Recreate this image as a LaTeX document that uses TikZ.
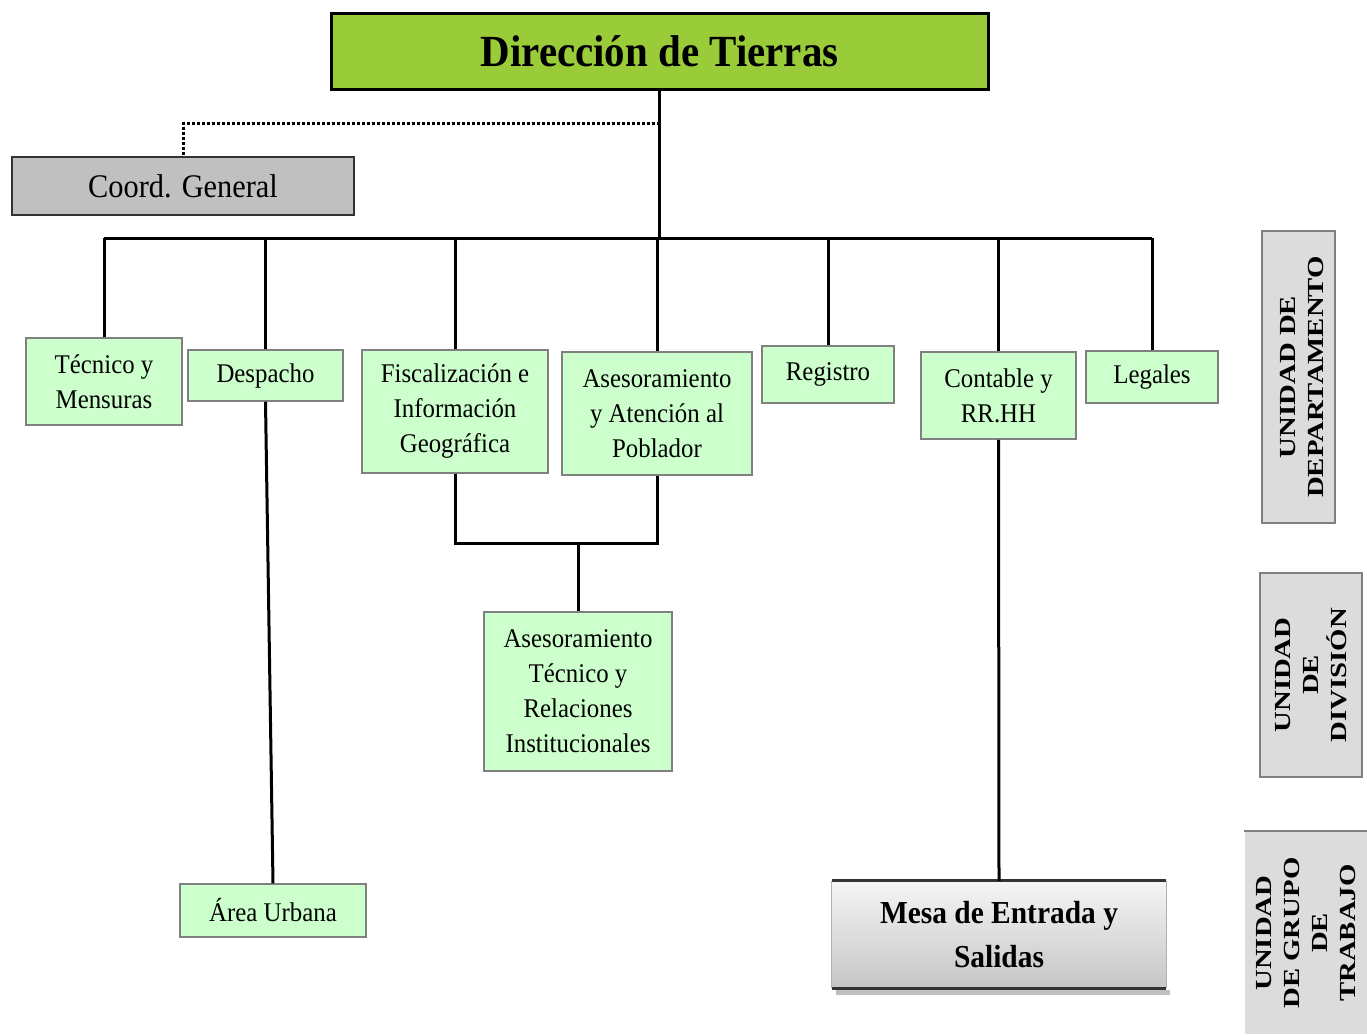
\documentclass[tikz,border=0pt]{standalone}
\usepackage{fontspec}
\setmainfont{Liberation Serif}
\newfontfamily\cond[FakeStretch=0.92]{Liberation Serif}
\newfontfamily\wide[FakeStretch=1.25]{Liberation Serif}
\definecolor{dirgreen}{RGB}{154,204,58}
\definecolor{lgreen}{RGB}{204,255,204}
\definecolor{cgray}{RGB}{192,192,192}
\definecolor{lgray}{RGB}{220,220,220}
\definecolor{bgray}{RGB}{128,128,128}
\begin{document}
\begin{tikzpicture}[x=1pt,y=-1pt,
  conn/.style={line width=3pt},
  dotline/.style={line width=3pt,dotted},
  gbox/.style={draw=bgray,line width=1.5pt,fill=lgreen,align=center,inner sep=0pt,
     font=\cond\fontsize{27}{35}\selectfont},
  sidebox/.style={draw=bgray,line width=1.5pt,fill=lgray,inner sep=0pt},
  sidetext/.style={rotate=90,align=center,font=\wide\bfseries\fontsize{23}{28}\selectfont}]
\useasboundingbox (0,0) rectangle (1367,1034);
% top
\node[draw=black,line width=3pt,fill=dirgreen,minimum width=657pt,minimum height=76pt,inner sep=0pt,
  font=\cond\bfseries\fontsize{44.5}{50}\selectfont] (dir) at (659.5,51) {Dirección de Tierras};
\node[draw=black!80,line width=1.5pt,fill=cgray,minimum width=342pt,minimum height=58pt,inner sep=0pt,
  font=\cond\fontsize{33}{36}\selectfont] (coord) at (183,186) {Coord. General};
% departments
\node[gbox,minimum width=156pt,minimum height=87pt] (tec) at (104,381.5) {Técnico y\\Mensuras};
\node[gbox,minimum width=155pt,minimum height=51pt] (desp) at (265.5,375.5) {Despacho};
\node[gbox,minimum width=186pt,minimum height=123pt] (fis) at (455,411.5) {Fiscalización e\\Información\\Geográfica};
\node[gbox,minimum width=190pt,minimum height=123pt] (ase) at (657,413.5) {Asesoramiento\\y Atención al\\Poblador};
\node[gbox,minimum width=132pt,minimum height=57pt] (reg) at (828,374.5) {Registro};
\node[gbox,minimum width=155pt,minimum height=87pt] (con) at (998.5,395.5) {Contable y\\RR.HH};
\node[gbox,minimum width=132pt,minimum height=52pt] (leg) at (1152,377) {Legales};
% divisions
\node[gbox,minimum width=188pt,minimum height=159pt] (atr) at (578,691.5) {Asesoramiento\\Técnico y\\Relaciones\\Institucionales};
\node[gbox,minimum width=186pt,minimum height=53pt] (area) at (273,910.5) {Área Urbana};
% mesa
\fill[black!25] (836,990) rectangle (1170,995);
\node[top color=gray!8,bottom color=gray!45,minimum width=334pt,minimum height=107pt,inner sep=0pt,align=center,
  font=\cond\bfseries\fontsize{32}{44}\selectfont] (mesa) at (999,934.5) {Mesa de Entrada y\\Salidas};
\draw[line width=3pt,black!80] (mesa.north west) -- (mesa.north east);
\draw[line width=3pt,black!80] (mesa.south west) -- (mesa.south east);
\draw[line width=0.8pt,gray!60] (mesa.north west) -- (mesa.south west) (mesa.north east) -- (mesa.south east);
% side labels
\node[sidebox,minimum width=73pt,minimum height=292pt] (s1) at (1298.5,377) {};
\node[sidetext] (t1) at ([xshift=4pt]s1.center) {UNIDAD DE\\DEPARTAMENTO};
\node[sidebox,minimum width=102pt,minimum height=204pt] (s2) at (1311,675) {};
\node[sidetext] (t2) at (s2.center) {UNIDAD\\DE\\DIVISIÓN};
\node[sidebox,draw=none,minimum width=122pt,minimum height=202pt] (s3) at (1306,933) {};
\draw[line width=2pt,bgray] (s3.north west) -- (s3.north east);
\node[sidetext] (t3) at (s3.center) {UNIDAD\\DE GRUPO\\DE\\TRABAJO};
% connectors
\coordinate (bus) at (659.5,238);
\coordinate (dotj) at (659.5,123);
\draw[dotline] (dotj) -| (coord.north);
\draw[conn] (dir.south) -- (dir.south |- bus);
\draw[conn] (tec.north |- bus) -- (leg.north |- bus);
\foreach \n in {tec,desp,fis,ase,reg,con,leg} \draw[conn] (\n.north) -- (\n.north |- bus);
\coordinate (jn) at (578,543);
\draw[conn] (fis.south) |- (jn) -| (ase.south);
\draw[conn] (jn) -- (atr.north);
\draw[conn] (desp.south) -- (area.north);
\draw[conn] (con.south) -- (mesa.north);
\end{tikzpicture}
\end{document}
